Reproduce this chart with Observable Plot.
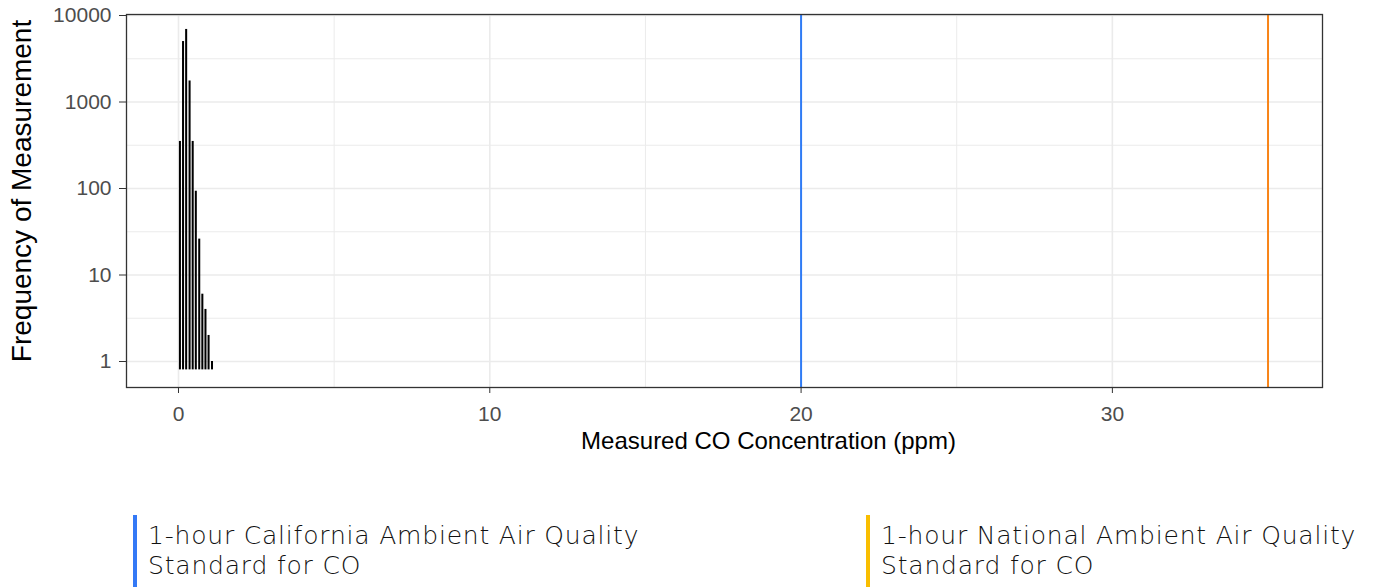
<!DOCTYPE html>
<html>
<head>
<meta charset="utf-8">
<script src="https://cdn.jsdelivr.net/npm/d3@7"></script>
<script src="https://cdn.jsdelivr.net/npm/@observablehq/plot@0.6"></script>
<style>
  html, body { margin: 0; padding: 0; background: #fff; }
  #wrap { position: relative; width: 1378px; height: 587px; overflow: hidden; }
  .leg { position: absolute; top: 515px; padding-left: 11px; padding-top: 6px; font-family: "DejaVu Sans", sans-serif; font-weight: 200; font-size: 25px; letter-spacing: 0.8px; color: #111; height: 80px; white-space: nowrap; }
  .leg div { height: 30px; line-height: 30px; }
</style>
</head>
<body>
<div id="wrap"></div>
<script>
// Histogram bins (ppm) and counts
const binStart = [0.03, 0.13, 0.23, 0.34, 0.44, 0.54, 0.65, 0.75, 0.85, 0.95, 1.06];
const binWidth = 0.065;
const counts = [350, 5000, 6900, 1750, 350, 93, 26, 6, 4, 2, 1];
const barBase = 0.8;

// Standards (ppm)
const standards = [
  {name: "1-hour California Ambient Air Quality Standard for CO", value: 20, line: "#2F7BF5", key: "#3479F6"},
  {name: "1-hour National Ambient Air Quality Standard for CO", value: 35, line: "#F88418", key: "#F9BE00"}
];

// Ticks & grid
const xTicks = [0, 10, 20, 30];
const xMinor = [5, 15, 25, 35];
const yTicks = [1, 10, 100, 1000, 10000];
const yMinor = [3.162, 31.62, 316.2, 3162];

const bars = binStart.map((s, i) => ({x1: s, x2: s + binWidth, y1: barBase, y2: counts[i]}));

const chart = Plot.plot({
  width: 1378,
  height: 470,
  marginLeft: 126,
  marginRight: 56,
  marginTop: 14,
  marginBottom: 83,
  style: {fontFamily: "'Liberation Sans', Arial, sans-serif", background: "transparent"},
  x: {domain: [-1.67, 36.75]},
  y: {type: "log", domain: [0.5006, 10270]},
  marks: [
    Plot.ruleX(xMinor, {stroke: "#EBEBEB", strokeWidth: 1}),
    Plot.ruleY(yMinor, {stroke: "#EBEBEB", strokeWidth: 1}),
    Plot.ruleX(xTicks, {stroke: "#EBEBEB", strokeWidth: 1.6}),
    Plot.ruleY(yTicks, {stroke: "#EBEBEB", strokeWidth: 1.6}),
    Plot.rect(bars, {x1: "x1", x2: "x2", y1: "y1", y2: "y2", fill: "black"}),
    Plot.ruleX(standards, {x: "value", stroke: "line", strokeWidth: 2}),
    Plot.frame({stroke: "#333", strokeWidth: 1.3}),
    Plot.axisX({ticks: xTicks, tickSize: 6, tickPadding: 13, fontSize: 21, color: "#4D4D4D", tickFormat: d => String(d), label: null}),
    Plot.axisY({ticks: yTicks, tickSize: 7, tickPadding: 8, fontSize: 21, color: "#4D4D4D", tickFormat: d => String(d), label: null}),
    Plot.text(["Measured CO Concentration (ppm)"], {frameAnchor: "bottom", dx: 44, dy: 61, fontSize: 24, fill: "black"}),
    Plot.text(["Frequency of Measurement"], {frameAnchor: "left", textAnchor: "middle", rotate: -90, dx: -104, dy: -10, fontSize: 28, fill: "black"})
  ]
});
chart.querySelectorAll("[aria-label='x-axis tick'] path, [aria-label='y-axis tick'] path").forEach(p => p.setAttribute("stroke", "#333"));
const wrap = document.getElementById("wrap");
wrap.appendChild(chart);

const legendLeft = [133, 866];
standards.forEach((s, i) => {
  const d = document.createElement("div");
  d.className = "leg";
  d.style.left = legendLeft[i] + "px";
  d.style.borderLeft = "4px solid " + s.key;
  const parts = s.name.split(" Standard");
  [parts[0], "Standard" + parts[1]].forEach(t => {
    const line = document.createElement("div");
    line.textContent = t;
    d.appendChild(line);
  });
  wrap.appendChild(d);
});
</script>
</body>
</html>
